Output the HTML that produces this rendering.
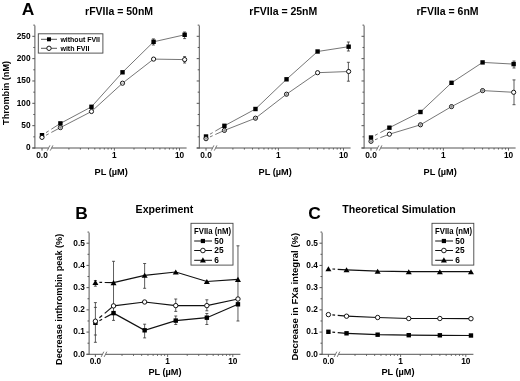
<!DOCTYPE html><html><head><meta charset="utf-8"><style>html,body{margin:0;padding:0;background:#fff;width:520px;height:381px;overflow:hidden}svg{display:block;filter:grayscale(1)}</style></head><body>
<svg width="520" height="381" viewBox="0 0 520 381" style="font-family:'Liberation Sans',sans-serif;font-weight:bold">
<rect width="520" height="381" fill="#fff"/>
<text x="28.10" y="14.80" font-size="17.4" text-anchor="middle" >A</text>
<text x="119.10" y="15.00" font-size="10.5" text-anchor="middle" >rFVIIa = 50nM</text>
<line x1="34.90" y1="25.53" x2="34.90" y2="148.50" stroke="#555" stroke-width="1.0" />
<line x1="32.30" y1="148.00" x2="34.90" y2="148.00" stroke="#555" stroke-width="1.0" />
<line x1="32.30" y1="125.66" x2="34.90" y2="125.66" stroke="#555" stroke-width="1.0" />
<line x1="32.30" y1="103.32" x2="34.90" y2="103.32" stroke="#555" stroke-width="1.0" />
<line x1="32.30" y1="80.98" x2="34.90" y2="80.98" stroke="#555" stroke-width="1.0" />
<line x1="32.30" y1="58.64" x2="34.90" y2="58.64" stroke="#555" stroke-width="1.0" />
<line x1="32.30" y1="36.30" x2="34.90" y2="36.30" stroke="#555" stroke-width="1.0" />
<line x1="33.30" y1="136.83" x2="34.90" y2="136.83" stroke="#555" stroke-width="1.0" />
<line x1="33.30" y1="114.49" x2="34.90" y2="114.49" stroke="#555" stroke-width="1.0" />
<line x1="33.30" y1="92.15" x2="34.90" y2="92.15" stroke="#555" stroke-width="1.0" />
<line x1="33.30" y1="69.81" x2="34.90" y2="69.81" stroke="#555" stroke-width="1.0" />
<line x1="33.30" y1="47.47" x2="34.90" y2="47.47" stroke="#555" stroke-width="1.0" />
<line x1="33.30" y1="25.13" x2="34.90" y2="25.13" stroke="#555" stroke-width="1.0" />
<line x1="32.30" y1="148.00" x2="48.50" y2="148.00" stroke="#555" stroke-width="1.0" />
<line x1="51.70" y1="148.00" x2="186.60" y2="148.00" stroke="#555" stroke-width="1.0" />
<line x1="47.30" y1="150.60" x2="49.90" y2="145.40" stroke="#555" stroke-width="0.8" />
<line x1="50.30" y1="150.60" x2="52.90" y2="145.40" stroke="#555" stroke-width="0.8" />
<line x1="42.00" y1="148.00" x2="42.00" y2="150.60" stroke="#555" stroke-width="1.0" />
<line x1="68.90" y1="148.00" x2="68.90" y2="149.60" stroke="#555" stroke-width="0.9" />
<line x1="80.36" y1="148.00" x2="80.36" y2="149.60" stroke="#555" stroke-width="0.9" />
<line x1="88.49" y1="148.00" x2="88.49" y2="149.60" stroke="#555" stroke-width="0.9" />
<line x1="94.80" y1="148.00" x2="94.80" y2="149.60" stroke="#555" stroke-width="0.9" />
<line x1="99.96" y1="148.00" x2="99.96" y2="149.60" stroke="#555" stroke-width="0.9" />
<line x1="104.32" y1="148.00" x2="104.32" y2="149.60" stroke="#555" stroke-width="0.9" />
<line x1="108.09" y1="148.00" x2="108.09" y2="149.60" stroke="#555" stroke-width="0.9" />
<line x1="111.42" y1="148.00" x2="111.42" y2="149.60" stroke="#555" stroke-width="0.9" />
<line x1="114.40" y1="148.00" x2="114.40" y2="150.60" stroke="#555" stroke-width="0.9" />
<line x1="134.00" y1="148.00" x2="134.00" y2="149.60" stroke="#555" stroke-width="0.9" />
<line x1="145.46" y1="148.00" x2="145.46" y2="149.60" stroke="#555" stroke-width="0.9" />
<line x1="153.59" y1="148.00" x2="153.59" y2="149.60" stroke="#555" stroke-width="0.9" />
<line x1="159.90" y1="148.00" x2="159.90" y2="149.60" stroke="#555" stroke-width="0.9" />
<line x1="165.06" y1="148.00" x2="165.06" y2="149.60" stroke="#555" stroke-width="0.9" />
<line x1="169.42" y1="148.00" x2="169.42" y2="149.60" stroke="#555" stroke-width="0.9" />
<line x1="173.19" y1="148.00" x2="173.19" y2="149.60" stroke="#555" stroke-width="0.9" />
<line x1="176.52" y1="148.00" x2="176.52" y2="149.60" stroke="#555" stroke-width="0.9" />
<line x1="179.50" y1="148.00" x2="179.50" y2="150.60" stroke="#555" stroke-width="0.9" />
<text x="42.00" y="158.00" font-size="8.3" text-anchor="middle" >0.0</text>
<text x="114.40" y="158.00" font-size="8.3" text-anchor="middle" >1</text>
<text x="179.50" y="158.00" font-size="8.3" text-anchor="middle" >10</text>
<text x="111.20" y="175.30" font-size="9.2" text-anchor="middle" >PL (µM)</text>
<line x1="46.00" y1="132.64" x2="48.70" y2="130.91" stroke="#666" stroke-width="0.9" />
<line x1="51.30" y1="129.24" x2="60.41" y2="123.40" stroke="#666" stroke-width="0.9" />
<polyline points="60.41,123.40 91.47,106.80 122.53,72.30 153.59,41.80 184.65,34.80" fill="none" stroke="#666" stroke-width="0.9"/>
<line x1="46.00" y1="135.27" x2="48.70" y2="133.83" stroke="#666" stroke-width="0.9" />
<line x1="51.30" y1="132.45" x2="60.41" y2="127.60" stroke="#666" stroke-width="0.9" />
<polyline points="60.41,127.60 91.47,111.50 122.53,83.20 153.59,59.10 184.65,59.60" fill="none" stroke="#666" stroke-width="0.9"/>
<text x="283.30" y="15.00" font-size="10.5" text-anchor="middle" >rFVIIa = 25nM</text>
<line x1="199.30" y1="25.53" x2="199.30" y2="148.50" stroke="#555" stroke-width="1.0" />
<line x1="196.70" y1="148.00" x2="199.30" y2="148.00" stroke="#555" stroke-width="1.0" />
<line x1="196.70" y1="125.66" x2="199.30" y2="125.66" stroke="#555" stroke-width="1.0" />
<line x1="196.70" y1="103.32" x2="199.30" y2="103.32" stroke="#555" stroke-width="1.0" />
<line x1="196.70" y1="80.98" x2="199.30" y2="80.98" stroke="#555" stroke-width="1.0" />
<line x1="196.70" y1="58.64" x2="199.30" y2="58.64" stroke="#555" stroke-width="1.0" />
<line x1="196.70" y1="36.30" x2="199.30" y2="36.30" stroke="#555" stroke-width="1.0" />
<line x1="197.70" y1="136.83" x2="199.30" y2="136.83" stroke="#555" stroke-width="1.0" />
<line x1="197.70" y1="114.49" x2="199.30" y2="114.49" stroke="#555" stroke-width="1.0" />
<line x1="197.70" y1="92.15" x2="199.30" y2="92.15" stroke="#555" stroke-width="1.0" />
<line x1="197.70" y1="69.81" x2="199.30" y2="69.81" stroke="#555" stroke-width="1.0" />
<line x1="197.70" y1="47.47" x2="199.30" y2="47.47" stroke="#555" stroke-width="1.0" />
<line x1="197.70" y1="25.13" x2="199.30" y2="25.13" stroke="#555" stroke-width="1.0" />
<line x1="196.70" y1="148.00" x2="212.50" y2="148.00" stroke="#555" stroke-width="1.0" />
<line x1="215.70" y1="148.00" x2="350.60" y2="148.00" stroke="#555" stroke-width="1.0" />
<line x1="211.30" y1="150.60" x2="213.90" y2="145.40" stroke="#555" stroke-width="0.8" />
<line x1="214.30" y1="150.60" x2="216.90" y2="145.40" stroke="#555" stroke-width="0.8" />
<line x1="206.00" y1="148.00" x2="206.00" y2="150.60" stroke="#555" stroke-width="1.0" />
<line x1="232.90" y1="148.00" x2="232.90" y2="149.60" stroke="#555" stroke-width="0.9" />
<line x1="244.36" y1="148.00" x2="244.36" y2="149.60" stroke="#555" stroke-width="0.9" />
<line x1="252.49" y1="148.00" x2="252.49" y2="149.60" stroke="#555" stroke-width="0.9" />
<line x1="258.80" y1="148.00" x2="258.80" y2="149.60" stroke="#555" stroke-width="0.9" />
<line x1="263.96" y1="148.00" x2="263.96" y2="149.60" stroke="#555" stroke-width="0.9" />
<line x1="268.32" y1="148.00" x2="268.32" y2="149.60" stroke="#555" stroke-width="0.9" />
<line x1="272.09" y1="148.00" x2="272.09" y2="149.60" stroke="#555" stroke-width="0.9" />
<line x1="275.42" y1="148.00" x2="275.42" y2="149.60" stroke="#555" stroke-width="0.9" />
<line x1="278.40" y1="148.00" x2="278.40" y2="150.60" stroke="#555" stroke-width="0.9" />
<line x1="298.00" y1="148.00" x2="298.00" y2="149.60" stroke="#555" stroke-width="0.9" />
<line x1="309.46" y1="148.00" x2="309.46" y2="149.60" stroke="#555" stroke-width="0.9" />
<line x1="317.59" y1="148.00" x2="317.59" y2="149.60" stroke="#555" stroke-width="0.9" />
<line x1="323.90" y1="148.00" x2="323.90" y2="149.60" stroke="#555" stroke-width="0.9" />
<line x1="329.06" y1="148.00" x2="329.06" y2="149.60" stroke="#555" stroke-width="0.9" />
<line x1="333.42" y1="148.00" x2="333.42" y2="149.60" stroke="#555" stroke-width="0.9" />
<line x1="337.19" y1="148.00" x2="337.19" y2="149.60" stroke="#555" stroke-width="0.9" />
<line x1="340.52" y1="148.00" x2="340.52" y2="149.60" stroke="#555" stroke-width="0.9" />
<line x1="343.50" y1="148.00" x2="343.50" y2="150.60" stroke="#555" stroke-width="0.9" />
<text x="206.00" y="158.00" font-size="8.3" text-anchor="middle" >0.0</text>
<text x="278.40" y="158.00" font-size="8.3" text-anchor="middle" >1</text>
<text x="343.50" y="158.00" font-size="8.3" text-anchor="middle" >10</text>
<text x="275.20" y="175.30" font-size="9.2" text-anchor="middle" >PL (µM)</text>
<line x1="210.00" y1="134.18" x2="212.70" y2="132.61" stroke="#666" stroke-width="0.9" />
<line x1="215.30" y1="131.10" x2="224.41" y2="125.80" stroke="#666" stroke-width="0.9" />
<polyline points="224.41,125.80 255.47,109.00 286.53,79.30 317.59,51.50 348.65,46.70" fill="none" stroke="#666" stroke-width="0.9"/>
<line x1="210.00" y1="136.90" x2="212.70" y2="135.68" stroke="#666" stroke-width="0.9" />
<line x1="215.30" y1="134.51" x2="224.41" y2="130.40" stroke="#666" stroke-width="0.9" />
<polyline points="224.41,130.40 255.47,118.20 286.53,94.20 317.59,72.70 348.65,71.50" fill="none" stroke="#666" stroke-width="0.9"/>
<text x="447.50" y="15.00" font-size="10.5" text-anchor="middle" >rFVIIa = 6nM</text>
<line x1="364.10" y1="25.53" x2="364.10" y2="148.50" stroke="#555" stroke-width="1.0" />
<line x1="361.50" y1="148.00" x2="364.10" y2="148.00" stroke="#555" stroke-width="1.0" />
<line x1="361.50" y1="125.66" x2="364.10" y2="125.66" stroke="#555" stroke-width="1.0" />
<line x1="361.50" y1="103.32" x2="364.10" y2="103.32" stroke="#555" stroke-width="1.0" />
<line x1="361.50" y1="80.98" x2="364.10" y2="80.98" stroke="#555" stroke-width="1.0" />
<line x1="361.50" y1="58.64" x2="364.10" y2="58.64" stroke="#555" stroke-width="1.0" />
<line x1="361.50" y1="36.30" x2="364.10" y2="36.30" stroke="#555" stroke-width="1.0" />
<line x1="362.50" y1="136.83" x2="364.10" y2="136.83" stroke="#555" stroke-width="1.0" />
<line x1="362.50" y1="114.49" x2="364.10" y2="114.49" stroke="#555" stroke-width="1.0" />
<line x1="362.50" y1="92.15" x2="364.10" y2="92.15" stroke="#555" stroke-width="1.0" />
<line x1="362.50" y1="69.81" x2="364.10" y2="69.81" stroke="#555" stroke-width="1.0" />
<line x1="362.50" y1="47.47" x2="364.10" y2="47.47" stroke="#555" stroke-width="1.0" />
<line x1="362.50" y1="25.13" x2="364.10" y2="25.13" stroke="#555" stroke-width="1.0" />
<line x1="361.50" y1="148.00" x2="377.50" y2="148.00" stroke="#555" stroke-width="1.0" />
<line x1="380.70" y1="148.00" x2="515.60" y2="148.00" stroke="#555" stroke-width="1.0" />
<line x1="376.30" y1="150.60" x2="378.90" y2="145.40" stroke="#555" stroke-width="0.8" />
<line x1="379.30" y1="150.60" x2="381.90" y2="145.40" stroke="#555" stroke-width="0.8" />
<line x1="371.00" y1="148.00" x2="371.00" y2="150.60" stroke="#555" stroke-width="1.0" />
<line x1="397.90" y1="148.00" x2="397.90" y2="149.60" stroke="#555" stroke-width="0.9" />
<line x1="409.36" y1="148.00" x2="409.36" y2="149.60" stroke="#555" stroke-width="0.9" />
<line x1="417.49" y1="148.00" x2="417.49" y2="149.60" stroke="#555" stroke-width="0.9" />
<line x1="423.80" y1="148.00" x2="423.80" y2="149.60" stroke="#555" stroke-width="0.9" />
<line x1="428.96" y1="148.00" x2="428.96" y2="149.60" stroke="#555" stroke-width="0.9" />
<line x1="433.32" y1="148.00" x2="433.32" y2="149.60" stroke="#555" stroke-width="0.9" />
<line x1="437.09" y1="148.00" x2="437.09" y2="149.60" stroke="#555" stroke-width="0.9" />
<line x1="440.42" y1="148.00" x2="440.42" y2="149.60" stroke="#555" stroke-width="0.9" />
<line x1="443.40" y1="148.00" x2="443.40" y2="150.60" stroke="#555" stroke-width="0.9" />
<line x1="463.00" y1="148.00" x2="463.00" y2="149.60" stroke="#555" stroke-width="0.9" />
<line x1="474.46" y1="148.00" x2="474.46" y2="149.60" stroke="#555" stroke-width="0.9" />
<line x1="482.59" y1="148.00" x2="482.59" y2="149.60" stroke="#555" stroke-width="0.9" />
<line x1="488.90" y1="148.00" x2="488.90" y2="149.60" stroke="#555" stroke-width="0.9" />
<line x1="494.06" y1="148.00" x2="494.06" y2="149.60" stroke="#555" stroke-width="0.9" />
<line x1="498.42" y1="148.00" x2="498.42" y2="149.60" stroke="#555" stroke-width="0.9" />
<line x1="502.19" y1="148.00" x2="502.19" y2="149.60" stroke="#555" stroke-width="0.9" />
<line x1="505.52" y1="148.00" x2="505.52" y2="149.60" stroke="#555" stroke-width="0.9" />
<line x1="508.50" y1="148.00" x2="508.50" y2="150.60" stroke="#555" stroke-width="0.9" />
<text x="371.00" y="158.00" font-size="8.3" text-anchor="middle" >0.0</text>
<text x="443.40" y="158.00" font-size="8.3" text-anchor="middle" >1</text>
<text x="508.50" y="158.00" font-size="8.3" text-anchor="middle" >10</text>
<text x="440.20" y="175.30" font-size="9.2" text-anchor="middle" >PL (µM)</text>
<line x1="375.00" y1="135.37" x2="377.70" y2="133.93" stroke="#666" stroke-width="0.9" />
<line x1="380.30" y1="132.55" x2="389.41" y2="127.70" stroke="#666" stroke-width="0.9" />
<polyline points="389.41,127.70 420.47,112.00 451.53,82.80 482.59,62.40 513.65,64.10" fill="none" stroke="#666" stroke-width="0.9"/>
<line x1="375.00" y1="139.76" x2="377.70" y2="138.72" stroke="#666" stroke-width="0.9" />
<line x1="380.30" y1="137.71" x2="389.41" y2="134.20" stroke="#666" stroke-width="0.9" />
<polyline points="389.41,134.20 420.47,124.80 451.53,106.60 482.59,90.60 513.65,92.30" fill="none" stroke="#666" stroke-width="0.9"/>
<text x="30.60" y="150.30" font-size="8.3" text-anchor="end" >0</text>
<text x="30.60" y="127.96" font-size="8.3" text-anchor="end" >50</text>
<text x="30.60" y="105.62" font-size="8.3" text-anchor="end" >100</text>
<text x="30.60" y="83.28" font-size="8.3" text-anchor="end" >150</text>
<text x="30.60" y="60.94" font-size="8.3" text-anchor="end" >200</text>
<text x="30.60" y="38.60" font-size="8.3" text-anchor="end" >250</text>
<text transform="translate(9.4,92.9) rotate(-90)" font-size="9.7" text-anchor="middle" textLength="64.0" lengthAdjust="spacingAndGlyphs">Thrombin (nM)</text>
<line x1="153.40" y1="38.90" x2="153.40" y2="45.00" stroke="#333" stroke-width="0.8" />
<line x1="151.90" y1="38.90" x2="154.90" y2="38.90" stroke="#333" stroke-width="0.8" />
<line x1="151.90" y1="45.00" x2="154.90" y2="45.00" stroke="#333" stroke-width="0.8" />
<line x1="184.60" y1="32.00" x2="184.60" y2="38.60" stroke="#333" stroke-width="0.8" />
<line x1="183.10" y1="32.00" x2="186.10" y2="32.00" stroke="#333" stroke-width="0.8" />
<line x1="183.10" y1="38.60" x2="186.10" y2="38.60" stroke="#333" stroke-width="0.8" />
<line x1="184.60" y1="56.60" x2="184.60" y2="63.00" stroke="#333" stroke-width="0.8" />
<line x1="183.10" y1="56.60" x2="186.10" y2="56.60" stroke="#333" stroke-width="0.8" />
<line x1="183.10" y1="63.00" x2="186.10" y2="63.00" stroke="#333" stroke-width="0.8" />
<line x1="348.40" y1="42.00" x2="348.40" y2="51.00" stroke="#333" stroke-width="0.8" />
<line x1="346.90" y1="42.00" x2="349.90" y2="42.00" stroke="#333" stroke-width="0.8" />
<line x1="346.90" y1="51.00" x2="349.90" y2="51.00" stroke="#333" stroke-width="0.8" />
<line x1="348.40" y1="62.30" x2="348.40" y2="81.20" stroke="#333" stroke-width="0.8" />
<line x1="346.90" y1="62.30" x2="349.90" y2="62.30" stroke="#333" stroke-width="0.8" />
<line x1="346.90" y1="81.20" x2="349.90" y2="81.20" stroke="#333" stroke-width="0.8" />
<line x1="514.00" y1="61.00" x2="514.00" y2="68.00" stroke="#333" stroke-width="0.8" />
<line x1="512.50" y1="61.00" x2="515.50" y2="61.00" stroke="#333" stroke-width="0.8" />
<line x1="512.50" y1="68.00" x2="515.50" y2="68.00" stroke="#333" stroke-width="0.8" />
<line x1="514.00" y1="79.90" x2="514.00" y2="104.70" stroke="#333" stroke-width="0.8" />
<line x1="512.50" y1="79.90" x2="515.50" y2="79.90" stroke="#333" stroke-width="0.8" />
<line x1="512.50" y1="104.70" x2="515.50" y2="104.70" stroke="#333" stroke-width="0.8" />
<rect x="39.80" y="133.00" width="4.4" height="4.4" fill="#000"/>
<rect x="58.21" y="121.20" width="4.4" height="4.4" fill="#000"/>
<rect x="89.27" y="104.60" width="4.4" height="4.4" fill="#000"/>
<rect x="120.33" y="70.10" width="4.4" height="4.4" fill="#000"/>
<rect x="151.39" y="39.60" width="4.4" height="4.4" fill="#000"/>
<rect x="182.45" y="32.60" width="4.4" height="4.4" fill="#000"/>
<circle cx="42.00" cy="137.40" r="2.1" fill="#fff" stroke="#000" stroke-width="0.9"/>
<circle cx="60.41" cy="127.60" r="2.1" fill="#fff" stroke="#000" stroke-width="0.9"/>
<line x1="58.81" y1="127.60" x2="62.01" y2="127.60" stroke="#777" stroke-width="0.7" />
<line x1="60.41" y1="126.00" x2="60.41" y2="129.20" stroke="#777" stroke-width="0.7" />
<circle cx="91.47" cy="111.50" r="2.1" fill="#fff" stroke="#000" stroke-width="0.9"/>
<circle cx="122.53" cy="83.20" r="2.1" fill="#fff" stroke="#000" stroke-width="0.9"/>
<line x1="120.93" y1="83.20" x2="124.13" y2="83.20" stroke="#777" stroke-width="0.7" />
<circle cx="153.59" cy="59.10" r="2.1" fill="#fff" stroke="#000" stroke-width="0.9"/>
<circle cx="184.65" cy="59.60" r="2.1" fill="#fff" stroke="#000" stroke-width="0.9"/>
<rect x="203.80" y="134.30" width="4.4" height="4.4" fill="#000"/>
<rect x="222.21" y="123.60" width="4.4" height="4.4" fill="#000"/>
<rect x="253.27" y="106.80" width="4.4" height="4.4" fill="#000"/>
<rect x="284.33" y="77.10" width="4.4" height="4.4" fill="#000"/>
<rect x="315.39" y="49.30" width="4.4" height="4.4" fill="#000"/>
<rect x="346.45" y="44.50" width="4.4" height="4.4" fill="#000"/>
<circle cx="206.00" cy="138.70" r="2.1" fill="#fff" stroke="#000" stroke-width="0.9"/>
<line x1="204.40" y1="138.70" x2="207.60" y2="138.70" stroke="#777" stroke-width="0.7" />
<line x1="206.00" y1="137.10" x2="206.00" y2="140.30" stroke="#777" stroke-width="0.7" />
<circle cx="224.41" cy="130.40" r="2.1" fill="#fff" stroke="#000" stroke-width="0.9"/>
<line x1="222.81" y1="130.40" x2="226.01" y2="130.40" stroke="#777" stroke-width="0.7" />
<line x1="224.41" y1="128.80" x2="224.41" y2="132.00" stroke="#777" stroke-width="0.7" />
<circle cx="255.47" cy="118.20" r="2.1" fill="#fff" stroke="#000" stroke-width="0.9"/>
<line x1="253.87" y1="118.20" x2="257.07" y2="118.20" stroke="#777" stroke-width="0.7" />
<line x1="255.47" y1="116.60" x2="255.47" y2="119.80" stroke="#777" stroke-width="0.7" />
<circle cx="286.53" cy="94.20" r="2.1" fill="#fff" stroke="#000" stroke-width="0.9"/>
<line x1="284.93" y1="94.20" x2="288.13" y2="94.20" stroke="#777" stroke-width="0.7" />
<line x1="286.53" y1="92.60" x2="286.53" y2="95.80" stroke="#777" stroke-width="0.7" />
<circle cx="317.59" cy="72.70" r="2.1" fill="#fff" stroke="#000" stroke-width="0.9"/>
<circle cx="348.65" cy="71.50" r="2.1" fill="#fff" stroke="#000" stroke-width="0.9"/>
<rect x="368.80" y="135.30" width="4.4" height="4.4" fill="#000"/>
<rect x="387.21" y="125.50" width="4.4" height="4.4" fill="#000"/>
<rect x="418.27" y="109.80" width="4.4" height="4.4" fill="#000"/>
<rect x="449.33" y="80.60" width="4.4" height="4.4" fill="#000"/>
<rect x="480.39" y="60.20" width="4.4" height="4.4" fill="#000"/>
<rect x="511.45" y="61.90" width="4.4" height="4.4" fill="#000"/>
<circle cx="371.00" cy="141.30" r="2.1" fill="#fff" stroke="#000" stroke-width="0.9"/>
<line x1="369.40" y1="141.30" x2="372.60" y2="141.30" stroke="#777" stroke-width="0.7" />
<line x1="371.00" y1="139.70" x2="371.00" y2="142.90" stroke="#777" stroke-width="0.7" />
<circle cx="389.41" cy="134.20" r="2.1" fill="#fff" stroke="#000" stroke-width="0.9"/>
<circle cx="420.47" cy="124.80" r="2.1" fill="#fff" stroke="#000" stroke-width="0.9"/>
<line x1="418.87" y1="124.80" x2="422.07" y2="124.80" stroke="#777" stroke-width="0.7" />
<line x1="420.47" y1="123.20" x2="420.47" y2="126.40" stroke="#777" stroke-width="0.7" />
<circle cx="451.53" cy="106.60" r="2.1" fill="#fff" stroke="#000" stroke-width="0.9"/>
<line x1="449.93" y1="106.60" x2="453.13" y2="106.60" stroke="#777" stroke-width="0.7" />
<line x1="451.53" y1="105.00" x2="451.53" y2="108.20" stroke="#777" stroke-width="0.7" />
<circle cx="482.59" cy="90.60" r="2.1" fill="#fff" stroke="#000" stroke-width="0.9"/>
<line x1="480.99" y1="90.60" x2="484.19" y2="90.60" stroke="#777" stroke-width="0.7" />
<line x1="482.59" y1="89.00" x2="482.59" y2="92.20" stroke="#777" stroke-width="0.7" />
<circle cx="513.65" cy="92.30" r="2.1" fill="#fff" stroke="#000" stroke-width="0.9"/>
<rect x="38.3" y="33.8" width="64.6" height="19.3" fill="#fff" stroke="#444" stroke-width="0.9"/>
<line x1="41.00" y1="39.30" x2="57.00" y2="39.30" stroke="#444" stroke-width="0.9" />
<rect x="47.00" y="37.30" width="4" height="4" fill="#000"/>
<line x1="41.00" y1="48.30" x2="57.00" y2="48.30" stroke="#444" stroke-width="0.9" />
<circle cx="49.00" cy="48.30" r="2.2" fill="#fff" stroke="#000" stroke-width="0.9"/>
<text x="60.40" y="41.80" font-size="7.4" text-anchor="start" textLength="39.6" lengthAdjust="spacingAndGlyphs">without FVII</text>
<text x="60.40" y="50.90" font-size="7.4" text-anchor="start" textLength="29.0" lengthAdjust="spacingAndGlyphs">with FVII</text>
<text x="81.60" y="219.00" font-size="17.4" text-anchor="middle" >B</text>
<text x="135.60" y="212.60" font-size="10.6" text-anchor="start" >Experiment</text>
<line x1="89.10" y1="232.59" x2="89.10" y2="354.80" stroke="#555" stroke-width="1.0" />
<line x1="86.50" y1="354.30" x2="89.10" y2="354.30" stroke="#555" stroke-width="1.0" />
<line x1="86.50" y1="332.08" x2="89.10" y2="332.08" stroke="#555" stroke-width="1.0" />
<line x1="86.50" y1="309.86" x2="89.10" y2="309.86" stroke="#555" stroke-width="1.0" />
<line x1="86.50" y1="287.64" x2="89.10" y2="287.64" stroke="#555" stroke-width="1.0" />
<line x1="86.50" y1="265.42" x2="89.10" y2="265.42" stroke="#555" stroke-width="1.0" />
<line x1="86.50" y1="243.20" x2="89.10" y2="243.20" stroke="#555" stroke-width="1.0" />
<line x1="87.50" y1="343.19" x2="89.10" y2="343.19" stroke="#555" stroke-width="1.0" />
<line x1="87.50" y1="320.97" x2="89.10" y2="320.97" stroke="#555" stroke-width="1.0" />
<line x1="87.50" y1="298.75" x2="89.10" y2="298.75" stroke="#555" stroke-width="1.0" />
<line x1="87.50" y1="276.53" x2="89.10" y2="276.53" stroke="#555" stroke-width="1.0" />
<line x1="87.50" y1="254.31" x2="89.10" y2="254.31" stroke="#555" stroke-width="1.0" />
<line x1="87.50" y1="232.09" x2="89.10" y2="232.09" stroke="#555" stroke-width="1.0" />
<text x="84.90" y="356.70" font-size="8.3" text-anchor="end" >0.0</text>
<text x="84.90" y="334.48" font-size="8.3" text-anchor="end" >0.1</text>
<text x="84.90" y="312.26" font-size="8.3" text-anchor="end" >0.2</text>
<text x="84.90" y="290.04" font-size="8.3" text-anchor="end" >0.3</text>
<text x="84.90" y="267.82" font-size="8.3" text-anchor="end" >0.4</text>
<text x="84.90" y="245.60" font-size="8.3" text-anchor="end" >0.5</text>
<line x1="86.50" y1="354.30" x2="102.40" y2="354.30" stroke="#555" stroke-width="1.0" />
<line x1="105.60" y1="354.30" x2="240.40" y2="354.30" stroke="#555" stroke-width="1.0" />
<line x1="101.20" y1="356.90" x2="103.80" y2="351.70" stroke="#555" stroke-width="0.8" />
<line x1="104.20" y1="356.90" x2="106.80" y2="351.70" stroke="#555" stroke-width="0.8" />
<line x1="95.40" y1="354.30" x2="95.40" y2="356.90" stroke="#555" stroke-width="1.0" />
<line x1="122.03" y1="354.30" x2="122.03" y2="355.90" stroke="#555" stroke-width="0.9" />
<line x1="133.51" y1="354.30" x2="133.51" y2="355.90" stroke="#555" stroke-width="0.9" />
<line x1="141.65" y1="354.30" x2="141.65" y2="355.90" stroke="#555" stroke-width="0.9" />
<line x1="147.97" y1="354.30" x2="147.97" y2="355.90" stroke="#555" stroke-width="0.9" />
<line x1="153.14" y1="354.30" x2="153.14" y2="355.90" stroke="#555" stroke-width="0.9" />
<line x1="157.50" y1="354.30" x2="157.50" y2="355.90" stroke="#555" stroke-width="0.9" />
<line x1="161.28" y1="354.30" x2="161.28" y2="355.90" stroke="#555" stroke-width="0.9" />
<line x1="164.62" y1="354.30" x2="164.62" y2="355.90" stroke="#555" stroke-width="0.9" />
<line x1="167.60" y1="354.30" x2="167.60" y2="356.90" stroke="#555" stroke-width="0.9" />
<line x1="187.23" y1="354.30" x2="187.23" y2="355.90" stroke="#555" stroke-width="0.9" />
<line x1="198.71" y1="354.30" x2="198.71" y2="355.90" stroke="#555" stroke-width="0.9" />
<line x1="206.85" y1="354.30" x2="206.85" y2="355.90" stroke="#555" stroke-width="0.9" />
<line x1="213.17" y1="354.30" x2="213.17" y2="355.90" stroke="#555" stroke-width="0.9" />
<line x1="218.34" y1="354.30" x2="218.34" y2="355.90" stroke="#555" stroke-width="0.9" />
<line x1="222.70" y1="354.30" x2="222.70" y2="355.90" stroke="#555" stroke-width="0.9" />
<line x1="226.48" y1="354.30" x2="226.48" y2="355.90" stroke="#555" stroke-width="0.9" />
<line x1="229.82" y1="354.30" x2="229.82" y2="355.90" stroke="#555" stroke-width="0.9" />
<line x1="232.80" y1="354.30" x2="232.80" y2="356.90" stroke="#555" stroke-width="0.9" />
<text x="95.40" y="364.20" font-size="8.3" text-anchor="middle" >0.0</text>
<text x="167.60" y="364.20" font-size="8.3" text-anchor="middle" >1</text>
<text x="232.80" y="364.20" font-size="8.3" text-anchor="middle" >10</text>
<text x="165.00" y="374.80" font-size="9.2" text-anchor="middle" >PL (µM)</text>
<text transform="translate(62.1,299.3) rotate(-90)" font-size="9.1" text-anchor="middle" textLength="131.2" lengthAdjust="spacingAndGlyphs">Decrease inthrombin peak (%)</text>
<line x1="99.40" y1="282.44" x2="102.10" y2="282.47" stroke="#111" stroke-width="1.2" />
<line x1="104.70" y1="282.50" x2="113.53" y2="282.60" stroke="#111" stroke-width="1.2" />
<polyline points="113.53,282.60 144.64,275.30 175.75,272.00 206.85,281.50 237.96,279.40" fill="none" stroke="#111" stroke-width="1.2"/>
<line x1="99.40" y1="317.82" x2="102.10" y2="315.55" stroke="#111" stroke-width="1.2" />
<line x1="104.70" y1="313.35" x2="113.53" y2="305.90" stroke="#111" stroke-width="1.2" />
<polyline points="113.53,305.90 144.64,302.00 175.75,305.60 206.85,305.60 237.96,299.00" fill="none" stroke="#111" stroke-width="1.2"/>
<line x1="99.40" y1="320.66" x2="102.10" y2="319.22" stroke="#111" stroke-width="1.2" />
<line x1="104.70" y1="317.82" x2="113.53" y2="313.10" stroke="#111" stroke-width="1.2" />
<polyline points="113.53,313.10 144.64,330.30 175.75,320.60 206.85,317.70 237.96,304.30" fill="none" stroke="#111" stroke-width="1.2"/>
<line x1="95.40" y1="302.60" x2="95.40" y2="342.30" stroke="#333" stroke-width="0.8" />
<line x1="93.90" y1="302.60" x2="96.90" y2="302.60" stroke="#333" stroke-width="0.8" />
<line x1="93.90" y1="342.30" x2="96.90" y2="342.30" stroke="#333" stroke-width="0.8" />
<line x1="93.90" y1="307.40" x2="96.90" y2="307.40" stroke="#333" stroke-width="0.8" />
<line x1="93.90" y1="335.00" x2="96.90" y2="335.00" stroke="#333" stroke-width="0.8" />
<line x1="95.40" y1="280.50" x2="95.40" y2="286.20" stroke="#333" stroke-width="0.8" />
<line x1="93.90" y1="280.50" x2="96.90" y2="280.50" stroke="#333" stroke-width="0.8" />
<line x1="93.90" y1="286.20" x2="96.90" y2="286.20" stroke="#333" stroke-width="0.8" />
<line x1="113.53" y1="261.30" x2="113.53" y2="320.40" stroke="#333" stroke-width="0.8" />
<line x1="112.03" y1="261.30" x2="115.03" y2="261.30" stroke="#333" stroke-width="0.8" />
<line x1="112.03" y1="320.40" x2="115.03" y2="320.40" stroke="#333" stroke-width="0.8" />
<line x1="144.64" y1="263.50" x2="144.64" y2="288.30" stroke="#333" stroke-width="0.8" />
<line x1="143.14" y1="263.50" x2="146.14" y2="263.50" stroke="#333" stroke-width="0.8" />
<line x1="143.14" y1="288.30" x2="146.14" y2="288.30" stroke="#333" stroke-width="0.8" />
<line x1="144.64" y1="324.20" x2="144.64" y2="337.90" stroke="#333" stroke-width="0.8" />
<line x1="143.14" y1="324.20" x2="146.14" y2="324.20" stroke="#333" stroke-width="0.8" />
<line x1="143.14" y1="337.90" x2="146.14" y2="337.90" stroke="#333" stroke-width="0.8" />
<line x1="175.75" y1="299.00" x2="175.75" y2="311.40" stroke="#333" stroke-width="0.8" />
<line x1="174.25" y1="299.00" x2="177.25" y2="299.00" stroke="#333" stroke-width="0.8" />
<line x1="174.25" y1="311.40" x2="177.25" y2="311.40" stroke="#333" stroke-width="0.8" />
<line x1="175.75" y1="316.00" x2="175.75" y2="324.50" stroke="#333" stroke-width="0.8" />
<line x1="174.25" y1="316.00" x2="177.25" y2="316.00" stroke="#333" stroke-width="0.8" />
<line x1="174.25" y1="324.50" x2="177.25" y2="324.50" stroke="#333" stroke-width="0.8" />
<line x1="206.85" y1="299.80" x2="206.85" y2="310.80" stroke="#333" stroke-width="0.8" />
<line x1="205.35" y1="299.80" x2="208.35" y2="299.80" stroke="#333" stroke-width="0.8" />
<line x1="205.35" y1="310.80" x2="208.35" y2="310.80" stroke="#333" stroke-width="0.8" />
<line x1="206.85" y1="313.50" x2="206.85" y2="324.50" stroke="#333" stroke-width="0.8" />
<line x1="205.35" y1="313.50" x2="208.35" y2="313.50" stroke="#333" stroke-width="0.8" />
<line x1="205.35" y1="324.50" x2="208.35" y2="324.50" stroke="#333" stroke-width="0.8" />
<line x1="237.96" y1="245.80" x2="237.96" y2="321.00" stroke="#333" stroke-width="0.8" />
<line x1="236.46" y1="245.80" x2="239.46" y2="245.80" stroke="#333" stroke-width="0.8" />
<line x1="236.46" y1="321.00" x2="239.46" y2="321.00" stroke="#333" stroke-width="0.8" />
<path d="M92.40,284.95L98.40,284.95L95.40,279.85Z" fill="#000"/>
<path d="M110.53,285.15L116.53,285.15L113.53,280.05Z" fill="#000"/>
<path d="M141.64,277.85L147.64,277.85L144.64,272.75Z" fill="#000"/>
<path d="M172.75,274.55L178.75,274.55L175.75,269.45Z" fill="#000"/>
<path d="M203.85,284.05L209.85,284.05L206.85,278.95Z" fill="#000"/>
<path d="M234.96,281.95L240.96,281.95L237.96,276.85Z" fill="#000"/>
<rect x="93.20" y="320.60" width="4.4" height="4.4" fill="#000"/>
<rect x="111.33" y="310.90" width="4.4" height="4.4" fill="#000"/>
<rect x="142.44" y="328.10" width="4.4" height="4.4" fill="#000"/>
<rect x="173.55" y="318.40" width="4.4" height="4.4" fill="#000"/>
<rect x="204.65" y="315.50" width="4.4" height="4.4" fill="#000"/>
<rect x="235.76" y="302.10" width="4.4" height="4.4" fill="#000"/>
<circle cx="95.40" cy="321.20" r="2.2" fill="#fff" stroke="#000" stroke-width="0.9"/>
<circle cx="113.53" cy="305.90" r="2.2" fill="#fff" stroke="#000" stroke-width="0.9"/>
<circle cx="144.64" cy="302.00" r="2.2" fill="#fff" stroke="#000" stroke-width="0.9"/>
<circle cx="175.75" cy="305.60" r="2.2" fill="#fff" stroke="#000" stroke-width="0.9"/>
<circle cx="206.85" cy="305.60" r="2.2" fill="#fff" stroke="#000" stroke-width="0.9"/>
<circle cx="237.96" cy="299.00" r="2.2" fill="#fff" stroke="#000" stroke-width="0.9"/>
<text x="314.50" y="219.00" font-size="17.4" text-anchor="middle" >C</text>
<text x="342.20" y="212.60" font-size="10.6" text-anchor="start" >Theoretical Simulation</text>
<line x1="322.10" y1="232.59" x2="322.10" y2="354.80" stroke="#555" stroke-width="1.0" />
<line x1="319.50" y1="354.30" x2="322.10" y2="354.30" stroke="#555" stroke-width="1.0" />
<line x1="319.50" y1="332.08" x2="322.10" y2="332.08" stroke="#555" stroke-width="1.0" />
<line x1="319.50" y1="309.86" x2="322.10" y2="309.86" stroke="#555" stroke-width="1.0" />
<line x1="319.50" y1="287.64" x2="322.10" y2="287.64" stroke="#555" stroke-width="1.0" />
<line x1="319.50" y1="265.42" x2="322.10" y2="265.42" stroke="#555" stroke-width="1.0" />
<line x1="319.50" y1="243.20" x2="322.10" y2="243.20" stroke="#555" stroke-width="1.0" />
<line x1="320.50" y1="343.19" x2="322.10" y2="343.19" stroke="#555" stroke-width="1.0" />
<line x1="320.50" y1="320.97" x2="322.10" y2="320.97" stroke="#555" stroke-width="1.0" />
<line x1="320.50" y1="298.75" x2="322.10" y2="298.75" stroke="#555" stroke-width="1.0" />
<line x1="320.50" y1="276.53" x2="322.10" y2="276.53" stroke="#555" stroke-width="1.0" />
<line x1="320.50" y1="254.31" x2="322.10" y2="254.31" stroke="#555" stroke-width="1.0" />
<line x1="320.50" y1="232.09" x2="322.10" y2="232.09" stroke="#555" stroke-width="1.0" />
<text x="317.90" y="356.70" font-size="8.3" text-anchor="end" >0.0</text>
<text x="317.90" y="334.48" font-size="8.3" text-anchor="end" >0.1</text>
<text x="317.90" y="312.26" font-size="8.3" text-anchor="end" >0.2</text>
<text x="317.90" y="290.04" font-size="8.3" text-anchor="end" >0.3</text>
<text x="317.90" y="267.82" font-size="8.3" text-anchor="end" >0.4</text>
<text x="317.90" y="245.60" font-size="8.3" text-anchor="end" >0.5</text>
<line x1="319.50" y1="354.30" x2="335.40" y2="354.30" stroke="#555" stroke-width="1.0" />
<line x1="338.60" y1="354.30" x2="473.40" y2="354.30" stroke="#555" stroke-width="1.0" />
<line x1="334.20" y1="356.90" x2="336.80" y2="351.70" stroke="#555" stroke-width="0.8" />
<line x1="337.20" y1="356.90" x2="339.80" y2="351.70" stroke="#555" stroke-width="0.8" />
<line x1="328.40" y1="354.30" x2="328.40" y2="356.90" stroke="#555" stroke-width="1.0" />
<line x1="355.03" y1="354.30" x2="355.03" y2="355.90" stroke="#555" stroke-width="0.9" />
<line x1="366.51" y1="354.30" x2="366.51" y2="355.90" stroke="#555" stroke-width="0.9" />
<line x1="374.65" y1="354.30" x2="374.65" y2="355.90" stroke="#555" stroke-width="0.9" />
<line x1="380.97" y1="354.30" x2="380.97" y2="355.90" stroke="#555" stroke-width="0.9" />
<line x1="386.14" y1="354.30" x2="386.14" y2="355.90" stroke="#555" stroke-width="0.9" />
<line x1="390.50" y1="354.30" x2="390.50" y2="355.90" stroke="#555" stroke-width="0.9" />
<line x1="394.28" y1="354.30" x2="394.28" y2="355.90" stroke="#555" stroke-width="0.9" />
<line x1="397.62" y1="354.30" x2="397.62" y2="355.90" stroke="#555" stroke-width="0.9" />
<line x1="400.60" y1="354.30" x2="400.60" y2="356.90" stroke="#555" stroke-width="0.9" />
<line x1="420.23" y1="354.30" x2="420.23" y2="355.90" stroke="#555" stroke-width="0.9" />
<line x1="431.71" y1="354.30" x2="431.71" y2="355.90" stroke="#555" stroke-width="0.9" />
<line x1="439.85" y1="354.30" x2="439.85" y2="355.90" stroke="#555" stroke-width="0.9" />
<line x1="446.17" y1="354.30" x2="446.17" y2="355.90" stroke="#555" stroke-width="0.9" />
<line x1="451.34" y1="354.30" x2="451.34" y2="355.90" stroke="#555" stroke-width="0.9" />
<line x1="455.70" y1="354.30" x2="455.70" y2="355.90" stroke="#555" stroke-width="0.9" />
<line x1="459.48" y1="354.30" x2="459.48" y2="355.90" stroke="#555" stroke-width="0.9" />
<line x1="462.82" y1="354.30" x2="462.82" y2="355.90" stroke="#555" stroke-width="0.9" />
<line x1="465.80" y1="354.30" x2="465.80" y2="356.90" stroke="#555" stroke-width="0.9" />
<text x="328.40" y="364.20" font-size="8.3" text-anchor="middle" >0.0</text>
<text x="400.60" y="364.20" font-size="8.3" text-anchor="middle" >1</text>
<text x="465.80" y="364.20" font-size="8.3" text-anchor="middle" >10</text>
<text x="398.00" y="374.80" font-size="9.2" text-anchor="middle" >PL (µM)</text>
<text transform="translate(297.7,296.7) rotate(-90)" font-size="9.3" text-anchor="middle" textLength="127.7" lengthAdjust="spacingAndGlyphs">Decrease in FXa integral (%)</text>
<line x1="332.40" y1="269.02" x2="335.10" y2="269.17" stroke="#111" stroke-width="1.2" />
<line x1="337.70" y1="269.31" x2="346.53" y2="269.80" stroke="#111" stroke-width="1.2" />
<polyline points="346.53,269.80 377.64,271.20 408.75,271.70 439.85,271.70 470.96,271.70" fill="none" stroke="#111" stroke-width="1.2"/>
<line x1="332.40" y1="314.95" x2="335.10" y2="315.19" stroke="#111" stroke-width="1.2" />
<line x1="337.70" y1="315.42" x2="346.53" y2="316.20" stroke="#111" stroke-width="1.2" />
<polyline points="346.53,316.20 377.64,317.50 408.75,318.50 439.85,318.50 470.96,318.70" fill="none" stroke="#111" stroke-width="1.2"/>
<line x1="332.40" y1="332.13" x2="335.10" y2="332.35" stroke="#111" stroke-width="1.2" />
<line x1="337.70" y1="332.57" x2="346.53" y2="333.30" stroke="#111" stroke-width="1.2" />
<polyline points="346.53,333.30 377.64,334.70 408.75,335.20 439.85,335.30 470.96,335.50" fill="none" stroke="#111" stroke-width="1.2"/>
<path d="M325.40,271.35L331.40,271.35L328.40,266.25Z" fill="#000"/>
<path d="M343.53,272.35L349.53,272.35L346.53,267.25Z" fill="#000"/>
<path d="M374.64,273.75L380.64,273.75L377.64,268.65Z" fill="#000"/>
<path d="M405.75,274.25L411.75,274.25L408.75,269.15Z" fill="#000"/>
<path d="M436.85,274.25L442.85,274.25L439.85,269.15Z" fill="#000"/>
<path d="M467.96,274.25L473.96,274.25L470.96,269.15Z" fill="#000"/>
<rect x="326.20" y="329.60" width="4.4" height="4.4" fill="#000"/>
<rect x="344.33" y="331.10" width="4.4" height="4.4" fill="#000"/>
<rect x="375.44" y="332.50" width="4.4" height="4.4" fill="#000"/>
<rect x="406.55" y="333.00" width="4.4" height="4.4" fill="#000"/>
<rect x="437.65" y="333.10" width="4.4" height="4.4" fill="#000"/>
<rect x="468.76" y="333.30" width="4.4" height="4.4" fill="#000"/>
<circle cx="328.40" cy="314.60" r="2.2" fill="#fff" stroke="#000" stroke-width="0.9"/>
<circle cx="346.53" cy="316.20" r="2.2" fill="#fff" stroke="#000" stroke-width="0.9"/>
<circle cx="377.64" cy="317.50" r="2.2" fill="#fff" stroke="#000" stroke-width="0.9"/>
<circle cx="408.75" cy="318.50" r="2.2" fill="#fff" stroke="#000" stroke-width="0.9"/>
<circle cx="439.85" cy="318.50" r="2.2" fill="#fff" stroke="#000" stroke-width="0.9"/>
<circle cx="470.96" cy="318.70" r="2.2" fill="#fff" stroke="#000" stroke-width="0.9"/>
<rect x="191.0" y="223.3" width="42.0" height="41.8" fill="#fff" stroke="#444" stroke-width="0.9"/>
<text x="194.00" y="234.30" font-size="8.4" text-anchor="start" textLength="37.0" lengthAdjust="spacingAndGlyphs">FVIIa (nM)</text>
<line x1="194.20" y1="241.00" x2="212.00" y2="241.00" stroke="#111" stroke-width="1.0" />
<rect x="200.80" y="238.90" width="4.2" height="4.2" fill="#000"/>
<text x="214.30" y="243.60" font-size="8.3" text-anchor="start" >50</text>
<line x1="194.20" y1="250.50" x2="212.00" y2="250.50" stroke="#111" stroke-width="1.0" />
<circle cx="202.90" cy="250.50" r="2.3" fill="#fff" stroke="#000" stroke-width="0.9"/>
<text x="214.30" y="253.10" font-size="8.3" text-anchor="start" >25</text>
<line x1="194.20" y1="260.30" x2="212.00" y2="260.30" stroke="#111" stroke-width="1.0" />
<path d="M199.90,262.45L205.90,262.45L202.90,257.35Z" fill="#000"/>
<text x="214.30" y="262.90" font-size="8.3" text-anchor="start" >6</text>
<rect x="432.0" y="223.3" width="41.8" height="41.8" fill="#fff" stroke="#444" stroke-width="0.9"/>
<text x="435.00" y="234.30" font-size="8.4" text-anchor="start" textLength="37.0" lengthAdjust="spacingAndGlyphs">FVIIa (nM)</text>
<line x1="435.20" y1="241.00" x2="453.00" y2="241.00" stroke="#111" stroke-width="1.0" />
<rect x="441.80" y="238.90" width="4.2" height="4.2" fill="#000"/>
<text x="455.30" y="243.60" font-size="8.3" text-anchor="start" >50</text>
<line x1="435.20" y1="250.50" x2="453.00" y2="250.50" stroke="#111" stroke-width="1.0" />
<circle cx="443.90" cy="250.50" r="2.3" fill="#fff" stroke="#000" stroke-width="0.9"/>
<text x="455.30" y="253.10" font-size="8.3" text-anchor="start" >25</text>
<line x1="435.20" y1="260.30" x2="453.00" y2="260.30" stroke="#111" stroke-width="1.0" />
<path d="M440.90,262.45L446.90,262.45L443.90,257.35Z" fill="#000"/>
<text x="455.30" y="262.90" font-size="8.3" text-anchor="start" >6</text>
</svg></body></html>
